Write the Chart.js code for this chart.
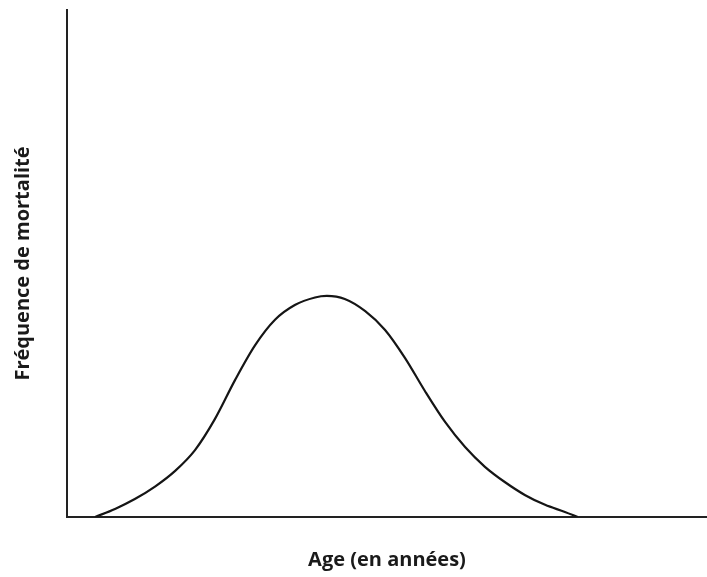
<!DOCTYPE html>
<html>
<head>
<meta charset="utf-8">
<script src="https://cdn.jsdelivr.net/npm/chart.js@4/dist/chart.umd.min.js"></script>
<style>
    html, body { margin: 0; padding: 0; background: #fff; }
    #wrap { width: 707px; height: 577px; }
</style>
</head>
<body>
<div id="wrap"><canvas id="chart"></canvas></div>
<script>
// courbe (âge arbitraire 0-100, fréquence arbitraire 0-100)
const ages = [4.4, 7.5, 10.6, 13.75, 16.9, 20.0, 23.1, 26.25, 29.4, 32.5, 35.6, 38.75, 40.6,
              43.4, 46.6, 49.7, 52.8, 55.9, 59.1, 62.2, 65.3, 68.4, 71.6, 74.7, 77.8, 79.8];
const frequences = [0, 1.6, 3.55, 6.0, 9.1, 13.2, 19.3, 27.0, 33.9, 38.9, 41.8, 43.3, 43.6,
                    43.0, 40.6, 36.9, 31.4, 24.9, 18.7, 13.8, 9.9, 6.9, 4.3, 2.4, 1.0, 0];
const xLabel = 'Age (en années)';
const yLabel = 'Fréquence de mortalité';

const points = ages.map((a, i) => ({ x: a, y: frequences[i] }));
const titleFont = { family: '"Open Sans", "DejaVu Sans", sans-serif', size: 20, weight: 'bold' };

new Chart(document.getElementById('chart'), {
    type: 'line',
    data: {
        datasets: [{
            data: points,
            borderColor: '#151515',
            borderWidth: 2.2,
            pointRadius: 0,
            fill: false,
            cubicInterpolationMode: 'monotone'
        }]
    },
    options: {
        responsive: true,
        maintainAspectRatio: false,
        animation: false,
        layout: { padding: { top: 10, right: 0, bottom: 0, left: 0 } },
        plugins: {
            legend: { display: false },
            tooltip: { enabled: false }
        },
        scales: {
            x: {
                type: 'linear',
                min: 0,
                max: 100,
                ticks: { display: false },
                grid: { display: false },
                border: { display: true, color: '#222', width: 2 },
                title: {
                    display: true,
                    text: xLabel,
                    color: '#1a1a1a',
                    font: titleFont,
                    padding: { top: 23, bottom: 5 }
                }
            },
            y: {
                min: 0,
                max: 100,
                ticks: { display: false },
                grid: { display: false },
                border: { display: true, color: '#222', width: 2 },
                title: {
                    display: true,
                    text: yLabel,
                    color: '#1a1a1a',
                    font: titleFont,
                    padding: { top: 11, bottom: 24 }
                }
            }
        }
    }
});
</script>
</body>
</html>
